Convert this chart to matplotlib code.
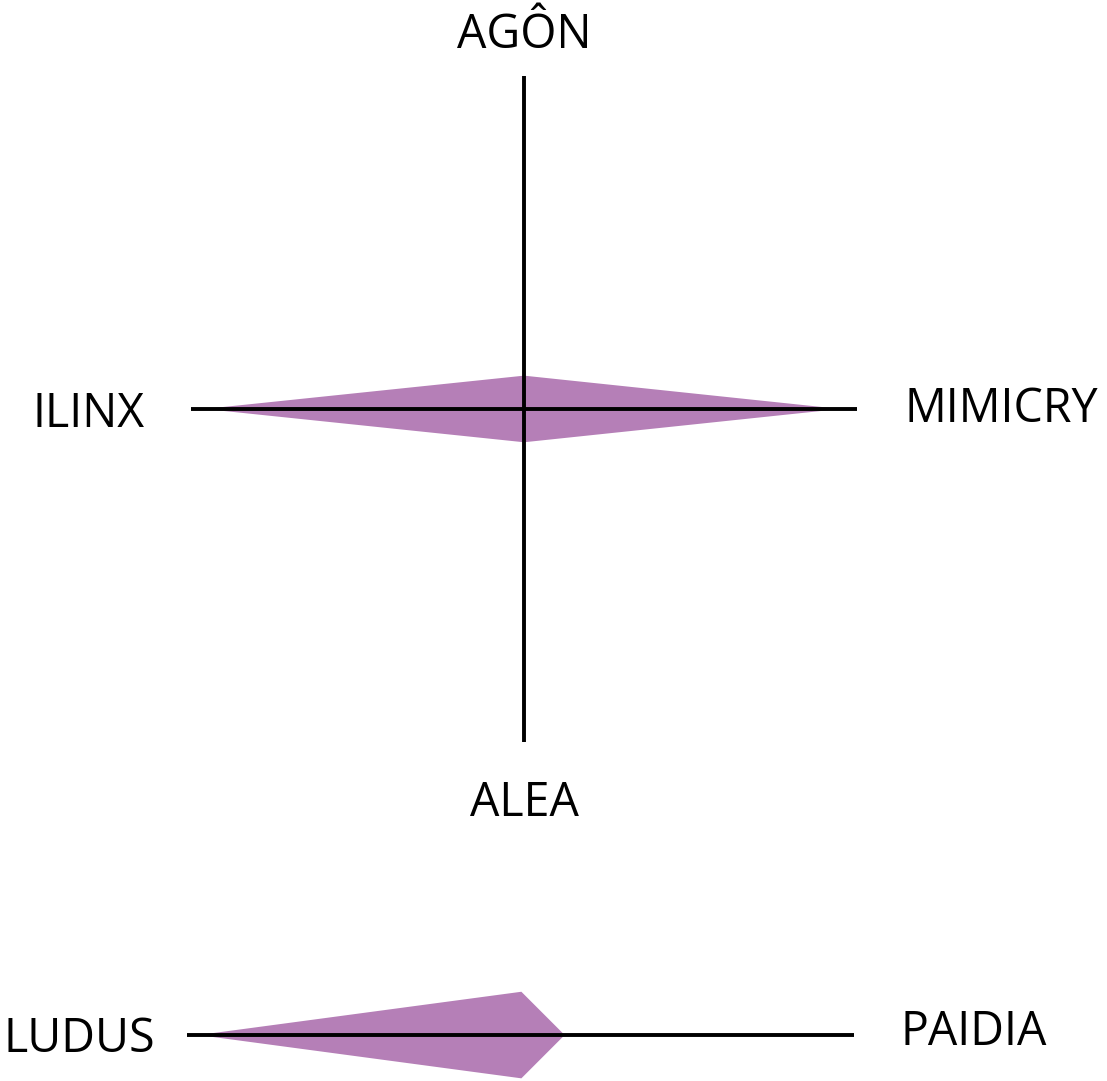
#!/usr/bin/env python3
"""Caillois play-type diagram: four-axis star plus the ludus/paidia bar."""

import matplotlib.pyplot as plt
from matplotlib.patches import Polygon

# axis labels of the cross (top, right, bottom, left) and their values (0..1)
cross_labels = ["AGÔN", "MIMICRY", "ALEA", "ILINX"]
cross_values = [0.10, 0.95, 0.10, 0.96]

# the ludus / paidia scale below
scale_labels = ["LUDUS", "PAIDIA"]
ludus_value = 0.97
paidia_value = 0.13
scale_width = 0.13

PURPLE = "#b57fb7"
FONT = "Open Sans"

fig = plt.figure(figsize=(11.07, 10.81), dpi=100)
ax = fig.add_axes([0, 0, 1, 1])
ax.set_xlim(-1.574, 1.751)
ax.set_ylim(-2.018, 1.228)
ax.axis("off")

# --- the cross ---
top, right, bottom, left = cross_values
star = [(0, top), (right, 0), (0, -bottom), (-left, 0)]
ax.add_patch(Polygon(star, closed=True, facecolor=PURPLE, edgecolor="none", zorder=1))
ax.plot([0, 0], [-1, 1], color="black", lw=2.8, solid_capstyle="butt", zorder=2)
ax.plot([-1, 1], [0, 0], color="black", lw=2.8, solid_capstyle="butt", zorder=2)

text_kw = dict(fontsize=33.5, family=FONT, va="baseline", ha="center")
ax.text(0, 1.084, cross_labels[0], **text_kw)
ax.text(1.435, -0.039, cross_labels[1], **text_kw)
ax.text(0, -1.222, cross_labels[2], **text_kw)
ax.text(-1.309, -0.054, cross_labels[3], **text_kw)

# --- ludus / paidia ---
y0 = -1.88
cx = -0.008
arrow = [(cx - ludus_value, y0), (cx, y0 + scale_width),
         (cx + paidia_value, y0), (cx, y0 - scale_width)]
ax.add_patch(Polygon(arrow, closed=True, facecolor=PURPLE, edgecolor="none", zorder=1))
ax.plot([cx - 1.003, cx + 1.0], [y0, y0], color="black", lw=2.8,
        solid_capstyle="butt", zorder=2)
ax.text(-1.335, -1.931, scale_labels[0], **text_kw)
ax.text(1.351, -1.91, scale_labels[1], **text_kw)

fig.savefig("out.png", dpi=100)
